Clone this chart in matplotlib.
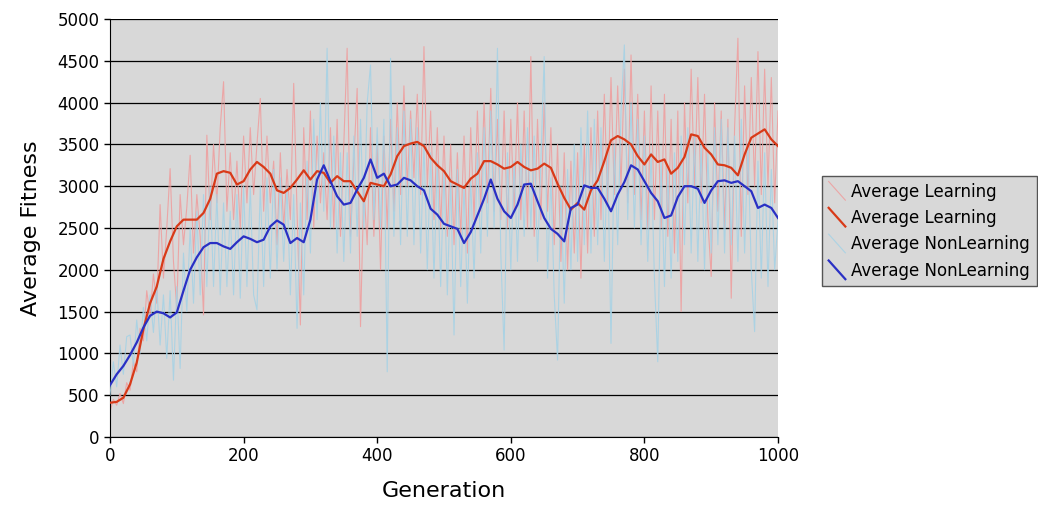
import numpy as np
import matplotlib
matplotlib.use("Agg")
import matplotlib.pyplot as plt
from matplotlib.lines import Line2D
from matplotlib.legend_handler import HandlerLine2D

# ---------------- data ----------------
raw_step = 5
smooth_step = 10

learning_raw = [
    300, 450, 380, 520, 400, 650, 560, 900, 780, 1300,
    1150, 1750, 1450, 1950, 1600, 2780, 1900, 2500, 3210, 2100,
    1540, 2900, 2300, 2750, 3370, 2200, 2900, 2400, 1460, 3610,
    2600, 3500, 2800, 3700, 4250, 2700, 3400, 2600, 3300, 2500,
    3600, 2800, 3700, 2900, 3500, 4050, 2700, 3600, 2800, 3300,
    2300, 3400, 2500, 3200, 2600, 4230, 2700, 1340, 3700, 2600,
    3900, 2500, 3600, 2800, 3400, 2600, 3700, 2500, 3800, 2400,
    3500, 4650, 2400, 3300, 4170, 1320, 3000, 2300, 3700, 2400,
    3500, 2000, 3600, 2500, 3800, 2700, 4000, 2900, 4200, 3000,
    3900, 3100, 4100, 2900, 4670, 3000, 3900, 2600, 3700, 2500,
    3600, 2400, 3500, 2300, 3400, 2400, 3600, 2200, 3700, 2600,
    3900, 2700, 4000, 2800, 4170, 2700, 3800, 2600, 3900, 2500,
    3800, 2700, 4000, 2600, 3900, 2500, 4550, 2400, 3800, 2600,
    4000, 2700, 3700, 2300, 3500, 2100, 3400, 2000, 3300, 2200,
    3400, 1900, 3500, 2200, 3700, 2400, 3900, 2600, 4100, 2800,
    4300, 2900, 4200, 3000, 4400, 2800, 4570, 2900, 4100, 2600,
    3900, 2500, 4200, 2600, 3900, 2500, 4100, 2400, 3800, 2200,
    3900, 1500, 4000, 2800, 4400, 3000, 4300, 2800, 4100, 2600,
    1920, 4000, 2700, 3900, 2500, 3800, 1660, 3700, 4770, 2400,
    4200, 2900, 4300, 3000, 4610, 2900, 4400, 3000, 4300, 2800,
    3900,
]

nonlearning_raw = [
    500, 900, 600, 1100, 750, 1200, 1220, 850, 1400, 1000,
    1550, 1150, 1700, 1250, 1800, 1100, 1700, 940, 1750, 680,
    1800, 820, 2200, 1500, 2500, 1600, 2700, 1700, 2900, 1800,
    3000, 1800, 2900, 1700, 2800, 1800, 2700, 1700, 2900, 1660,
    3000, 1800, 3000, 1700, 1520, 3000, 1800, 3100, 1900, 3200,
    2000, 3100, 2100, 3000, 1700, 2900, 1300, 2800, 1700, 3300,
    2200, 3800, 2600, 4000, 2700, 4650, 2500, 3600, 2200, 3400,
    2100, 3400, 2200, 3600, 2400, 3800, 2500, 4000, 4450, 2600,
    3700, 2500, 3800, 780, 4530, 2400, 3700, 2300, 3900, 2400,
    3800, 2300, 3700, 2200, 3500, 2000, 3400, 1900, 3300, 1800,
    3200, 1700, 3100, 1220, 3200, 1800, 3000, 1600, 3100, 1900,
    3400, 2200, 3700, 2400, 3900, 2500, 4650, 2200, 1040, 3400,
    2000, 3300, 2100, 3500, 2400, 3700, 2500, 3600, 2100, 3300,
    4550, 1900, 3100, 1700, 920, 3000, 1600, 3200, 2000, 3500,
    2100, 3700, 2300, 3900, 2200, 3800, 2300, 3700, 2100, 3400,
    1120, 3500, 2300, 3900, 4690, 2600, 4000, 2500, 3800, 2300,
    3600, 2100, 3400, 1900, 900, 3300, 1800, 3200, 1900, 3400,
    2100, 3600, 2300, 3700, 2200, 3600, 2100, 3500, 2000, 3400,
    2200, 3700, 2300, 3800, 2200, 3700, 2300, 3600, 2100, 3800,
    2200, 3500, 2000, 1260, 3300, 1900, 3400, 1800, 3200, 2000,
    2600,
]

learning_avg = [
    410, 420, 470, 630, 890, 1290, 1600, 1800, 2130, 2340,
    2520, 2600, 2600, 2600, 2680, 2850, 3150, 3180, 3160, 3020,
    3060, 3200, 3290, 3230, 3150, 2950, 2920, 2980, 3080, 3190,
    3080, 3180, 3160, 3040, 3120, 3060, 3060, 2940, 2820, 3040,
    3020, 3000, 3140, 3360, 3480, 3510, 3530, 3480, 3340, 3250,
    3180, 3060, 3020, 2980, 3090, 3150, 3300, 3300, 3260, 3210,
    3230, 3290, 3230, 3190, 3210, 3270, 3220, 3030, 2860, 2720,
    2800, 2720, 2950, 3070, 3300, 3550, 3600, 3560, 3500, 3360,
    3260, 3380, 3290, 3320, 3150, 3220, 3350, 3620, 3600, 3460,
    3380, 3260, 3250, 3220, 3130, 3380, 3580, 3630, 3680, 3560,
    3480,
]

nonlearning_avg = [
    620, 750, 850, 980, 1130, 1310, 1450, 1500, 1480, 1430,
    1490, 1750, 2000, 2150, 2270, 2320, 2320, 2280, 2250, 2330,
    2400, 2370, 2330, 2360, 2520, 2590, 2540, 2320, 2380, 2330,
    2600, 3080, 3250, 3060, 2880, 2780, 2800, 2960, 3100, 3320,
    3100, 3150, 3000, 3020, 3100, 3070, 3000, 2950, 2730, 2660,
    2550, 2520, 2490, 2320, 2450, 2650, 2850, 3080, 2850, 2700,
    2620, 2780, 3020, 3030, 2820, 2620, 2490, 2430, 2340, 2740,
    2780, 3010, 2980, 2980, 2850, 2700, 2900, 3050, 3250, 3200,
    3060, 2920, 2820, 2620, 2650, 2870, 3000, 3000, 2970, 2800,
    2950, 3060, 3070, 3040, 3060, 3000, 2940, 2740, 2780, 2740,
    2620,
]

series_labels = ["Average Learning", "Average Learning",
                 "Average NonLearning", "Average NonLearning"]
x_ticks = [0, 200, 400, 600, 800, 1000]
y_ticks = list(range(0, 5001, 500))

gen_raw = np.arange(len(learning_raw)) * raw_step
gen_avg = np.arange(len(learning_avg)) * smooth_step

# ---------------- figure ----------------
plt.rcParams['font.family'] = ['DejaVu Sans']
fig = plt.figure(figsize=(10.38, 5.08), dpi=100)
ax = fig.add_axes([110 / 1038, 1 - 437 / 508, 668 / 1038, 418 / 508])
ax.set_facecolor('#d8d8d8')

c_raw_l = '#eea0a0'
c_avg_l = '#d83a18'
c_raw_n = '#a4d2e6'
c_avg_n = '#2a30c4'

l1, = ax.plot(gen_raw, learning_raw, color=c_raw_l, lw=0.8, alpha=0.9, zorder=2)
l2, = ax.plot(gen_avg, learning_avg, color=c_avg_l, lw=1.6, zorder=4)
l3, = ax.plot(gen_raw, nonlearning_raw, color=c_raw_n, lw=0.8, alpha=0.85, zorder=3)
l4, = ax.plot(gen_avg, nonlearning_avg, color=c_avg_n, lw=1.6, zorder=5)

ax.set_xlim(0, 1000)
ax.set_ylim(0, 5000)
ax.set_xticks(x_ticks)
ax.set_yticks(y_ticks)
ax.tick_params(axis='both', labelsize=12, length=4, width=1, color='black')
ax.yaxis.grid(True, color='black', lw=0.9)
ax.set_axisbelow(True)
for side in ['top', 'right']:
    ax.spines[side].set_visible(False)
ax.spines['left'].set_color('black')
ax.spines['bottom'].set_color('black')

ax.set_xlabel('Generation', fontsize=16, labelpad=11)
ax.set_ylabel('Average Fitness', fontsize=16, labelpad=12)


class DiagHandler(HandlerLine2D):
    def create_artists(self, legend, orig_handle, xdescent, ydescent,
                       width, height, fontsize, trans):
        x0 = -xdescent
        line = Line2D([x0, x0 + width], [-ydescent + height * 1.3, -ydescent - height * 0.3])
        self.update_prop(line, orig_handle, legend)
        line.set_transform(trans)
        return [line]


leg = fig.legend([l1, l2, l3, l4], series_labels,
                 loc='upper left', bbox_to_anchor=(822 / 1038, 1 - 176 / 508),
                 borderaxespad=0, fancybox=False, framealpha=1,
                 facecolor='#d8d8d8', edgecolor='#555555', fontsize=12,
                 handlelength=1.0, handletextpad=0.35, labelspacing=0.5,
                 borderpad=0.4,
                 handler_map={Line2D: DiagHandler()})
leg.get_frame().set_linewidth(1.0)

fig.savefig('out.png', dpi=100, facecolor='white')
